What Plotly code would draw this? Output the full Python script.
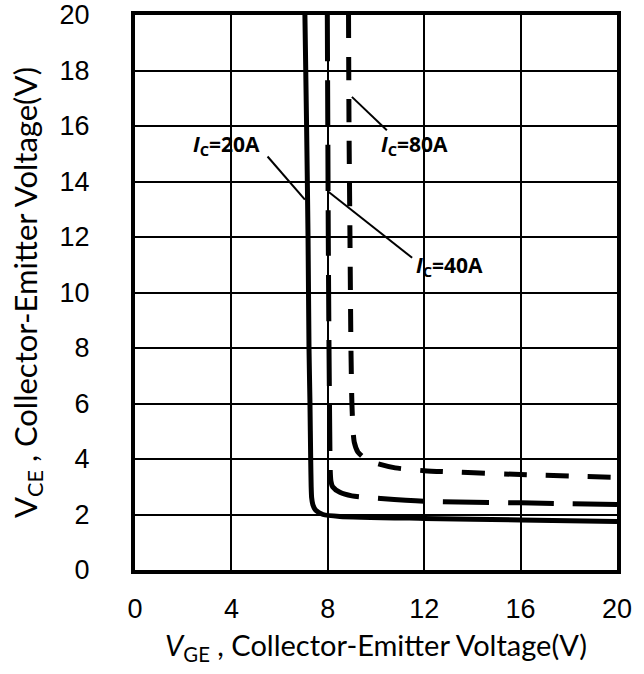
import plotly.graph_objects as go

# ---- data (VGE [V], VCE [V]) ----
vge_20a = [7.05, 7.12, 7.18, 7.22, 7.26, 7.29, 7.31, 7.33, 7.38, 7.5, 7.8, 8.5, 12, 16, 20]
vce_20a = [20, 16, 12, 8, 6, 4, 3, 2.6, 2.35, 2.15, 2.0, 1.93, 1.86, 1.8, 1.75]

vge_40a = [7.98, 8.0, 8.02, 8.05, 8.08, 8.1, 8.13, 8.2, 8.5, 9.0, 10.2, 12, 16, 20]
vce_40a = [20, 16, 12, 8, 5, 3.6, 3.2, 3.0, 2.8, 2.67, 2.58, 2.48, 2.42, 2.36]

vge_80a = [8.86, 8.88, 8.92, 8.96, 9.0, 9.05, 9.1, 9.25, 9.5, 10, 10.8, 12, 16, 20]
vce_80a = [20, 16, 12, 8, 6, 5, 4.6, 4.25, 4.05, 3.85, 3.68, 3.58, 3.44, 3.34]

x_ticks = [0, 4, 8, 12, 16, 20]
y_ticks = [0, 2, 4, 6, 8, 10, 12, 14, 16, 18, 20]

labels = ["<i>I</i><sub>C</sub>=20A", "<i>I</i><sub>C</sub>=40A", "<i>I</i><sub>C</sub>=80A"]
label_xy = [(3.78, 15.33), (13.05, 10.94), (11.6, 15.33)]
leaders = [((5.5, 14.9), (7.05, 13.35)), ((8.0, 13.65), (11.5, 11.25)), ((9.0, 17.05), (10.45, 15.85))]

fig = go.Figure()
fig.add_trace(go.Scatter(x=vge_20a, y=vce_20a, mode="lines",
                         line=dict(color="black", width=5, shape="spline", smoothing=0.6),
                         showlegend=False, hoverinfo="skip"))
fig.add_trace(go.Scatter(x=vge_40a, y=vce_40a, mode="lines",
                         line=dict(color="black", width=5, dash="46px,19px", shape="spline", smoothing=0.6),
                         showlegend=False, hoverinfo="skip"))
fig.add_trace(go.Scatter(x=vge_80a, y=vce_80a, mode="lines",
                         line=dict(color="black", width=5, dash="23px,19px", shape="spline", smoothing=0.6),
                         showlegend=False, hoverinfo="skip"))

for txt, (lx, ly) in zip(labels, label_xy):
    fig.add_annotation(x=lx, y=ly, xref="x", yref="y", text=txt, showarrow=False,
                       font=dict(family="Open Sans", size=21, color="black", weight="bold"))

for (p0, p1) in leaders:
    fig.add_shape(type="line", xref="x", yref="y", x0=p0[0], y0=p0[1], x1=p1[0], y1=p1[1],
                  line=dict(color="black", width=2))

axis_common = dict(showgrid=True, gridcolor="black", gridwidth=2, zeroline=False,
                   showline=True, linecolor="black", linewidth=4, mirror=True, automargin=False,
                   ticks="", tickfont=dict(family="Liberation Sans", size=27, color="black"))

fig.update_xaxes(range=[0, 20], tickvals=x_ticks, ticktext=[str(v) for v in x_ticks],
                 ticklabelstandoff=12,
                 title=dict(text="<i>V</i><sub>GE</sub> , Collector-Emitter Voltage(V)",
                            font=dict(family="Lato", size=29, color="black"), standoff=13),
                 **axis_common)
fig.update_yaxes(range=[0, 20], tickvals=y_ticks, ticktext=[str(v) for v in y_ticks],
                 ticklabelstandoff=36,
                 title=dict(text="V<sub>CE</sub> , Collector-Emitter Voltage(V)",
                            font=dict(family="Lato", size=31, color="black"), standoff=14),
                 **axis_common)

fig.update_layout(width=644, height=674, margin=dict(l=135, r=27, t=15, b=104),
                  plot_bgcolor="white", paper_bgcolor="white")

fig.write_html("out.html")
